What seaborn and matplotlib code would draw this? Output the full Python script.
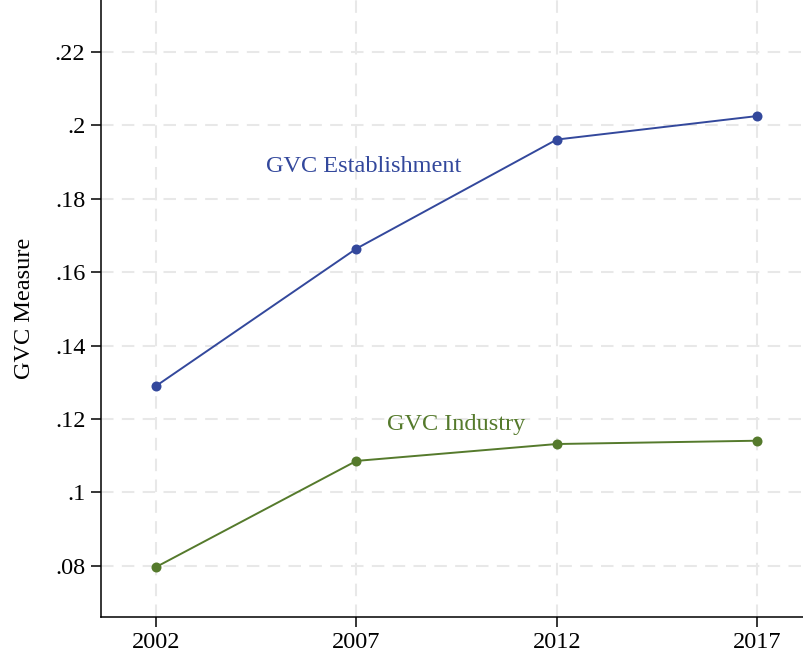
import matplotlib
matplotlib.use("Agg")
import matplotlib.pyplot as plt
import seaborn as sns
import pandas as pd

years = [2002, 2007, 2012, 2017]
establishment = [0.1290, 0.1664, 0.1961, 0.2025]
industry = [0.0797, 0.1086, 0.1132, 0.1141]
yticks = [0.08, 0.10, 0.12, 0.14, 0.16, 0.18, 0.20, 0.22]
ytick_labels = [".08", ".1", ".12", ".14", ".16", ".18", ".2", ".22"]

blue = "#33489c"
green = "#557a2c"

df = pd.concat([
    pd.DataFrame({"year": years, "value": establishment, "series": "GVC Establishment"}),
    pd.DataFrame({"year": years, "value": industry, "series": "GVC Industry"}),
])

sns.set_theme(style="white")
plt.rcParams["font.family"] = ["Liberation Serif", "DejaVu Serif"]

fig = plt.figure(figsize=(8.04, 6.57), dpi=100)
ax = fig.add_axes([100.7 / 804, (657 - 617) / 657, 1 - 100.7 / 804, 617 / 657])

sns.lineplot(data=df, x="year", y="value", hue="series",
             palette={"GVC Establishment": blue, "GVC Industry": green},
             marker="o", markersize=7.2, markeredgewidth=0, linewidth=1.4,
             legend=False, ax=ax)

ax.set_xlim(2000.62, 2018.17)
ax.set_ylim(0.0661, 0.2341)
ax.set_xticks(years)
ax.set_xticklabels([str(y) for y in years])
ax.set_yticks(yticks)
ax.set_yticklabels(ytick_labels)

ax.grid(True, color="#e8e8e8", linestyle=(0, (6, 4)), linewidth=1.5)
ax.set_axisbelow(True)
for s in ["top", "right"]:
    ax.spines[s].set_visible(False)
for s in ["left", "bottom"]:
    ax.spines[s].set_color("black")
    ax.spines[s].set_linewidth(1.1)

ax.tick_params(axis="both", which="major", direction="out", length=7, width=1.1,
               color="black", labelsize=17.5, labelcolor="black", pad=4,
               left=True, bottom=True)

ax.set_xlabel("")
ax.set_ylabel("GVC Measure", fontsize=17.5, color="black", labelpad=14)

ax.text(2007.19, 0.1887, "GVC Establishment", color=blue, fontsize=17.5,
        ha="center", va="center")
ax.text(2009.49, 0.1186, "GVC Industry", color=green, fontsize=17.5,
        ha="center", va="center")

fig.savefig("out.png", dpi=100)
